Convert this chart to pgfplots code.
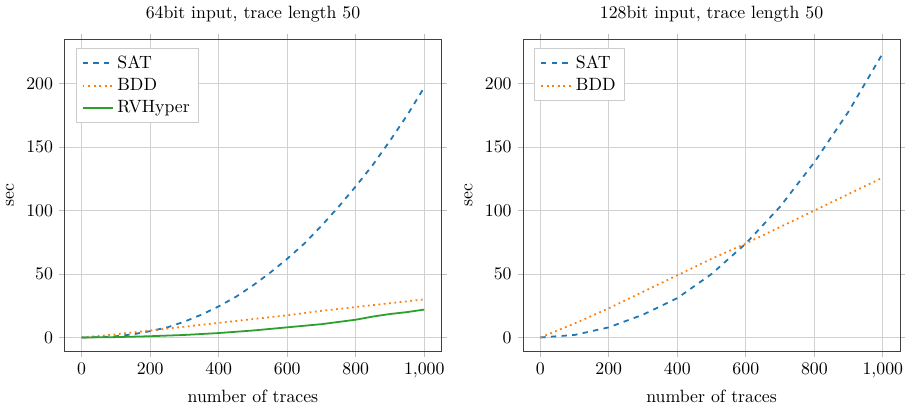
\documentclass[border=0pt]{standalone}
\usepackage{pgfplots}
\pgfplotsset{compat=1.18}
\usepgfplotslibrary{groupplots}

\definecolor{tabblue}{RGB}{31,119,180}
\definecolor{taborange}{RGB}{255,127,14}
\definecolor{tabgreen}{RGB}{44,160,44}

\pgfplotsset{
  every axis/.append style={
    axis line style={black!75},
    grid=major,
    major grid style={draw=black!18, line width=0.5pt},
    tick align=outside,
    major tick style={draw=black!25, line width=0.5pt},
    major tick length=3pt,
    xtick={0,200,400,600,800,1000},
    ytick={0,50,100,150,200},
    xmin=-50, xmax=1050,
    ymin=-11.2, ymax=235.2,
    legend cell align=left,
    legend style={at={(0.03,0.97)}, anchor=north west, draw=black!20, fill=white},
    legend image post style={line width=1.1pt},
  },
}

\begin{document}
\begin{tikzpicture}
\begin{groupplot}[
  group style={group size=2 by 1, horizontal sep=46pt},
  width=212pt, height=176pt, scale only axis,
  xlabel={number of traces},
  ylabel={sec},
]
\nextgroupplot[title={64bit input, trace length 50}]
\addplot[color=tabblue, dashed, line width=1pt] coordinates {
  (0,0) (50,0.2) (100,1) (150,2.5) (200,5) (250,8) (300,12.5) (350,18)
  (400,24.5) (450,32) (500,41) (550,51) (600,62) (650,74) (700,88)
  (750,103) (800,119) (850,136) (900,155) (950,175) (1000,197)
};
\addlegendentry{SAT}
\addplot[color=taborange, dotted, line width=1pt] coordinates {
  (0,0) (100,2.5) (200,5.5) (300,8.5) (400,11.5) (500,14.5) (600,17.5)
  (700,21) (800,24) (900,27) (1000,30)
};
\addlegendentry{BDD}
\addplot[color=tabgreen, solid, line width=1pt] coordinates {
  (0,0) (100,0.3) (200,1) (300,2) (400,3.5) (500,5.5) (600,8) (700,10.5)
  (800,14) (850,16.5) (900,18.5) (950,20) (1000,22)
};
\addlegendentry{RVHyper}

\nextgroupplot[title={128bit input, trace length 50}]
\addplot[color=tabblue, dashed, line width=1pt] coordinates {
  (0,0) (100,2) (200,8) (300,18) (400,31) (500,50) (600,74) (700,103)
  (800,138) (900,178) (1000,224)
};
\addlegendentry{SAT}
\addplot[color=taborange, dotted, line width=1pt] coordinates {
  (0,0) (100,11) (200,23) (300,36) (400,49) (500,62) (600,74) (700,87)
  (800,100) (900,113) (1000,126)
};
\addlegendentry{BDD}
\end{groupplot}
\end{tikzpicture}
\end{document}
